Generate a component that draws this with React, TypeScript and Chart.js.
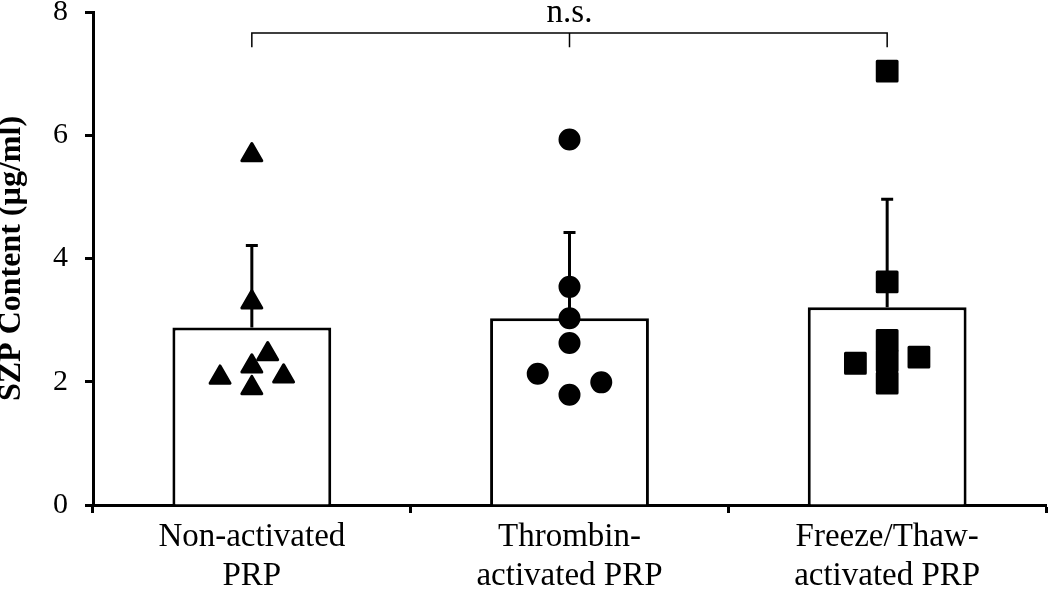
import { useEffect, useRef } from "react";
import { Chart, registerables } from "chart.js";

Chart.register(...registerables);

// ---- data ----
const categories: string[][] = [
  ["Non-activated", "PRP"],
  ["Thrombin-", "activated PRP"],
  ["Freeze/Thaw-", "activated PRP"],
];
const meanValues = [2.88, 3.03, 3.21];
const sdValues = [1.33, 1.39, 1.75];

const nonActivatedPoints = [5.68, 3.29, 2.07, 2.25, 2.45, 2.09, 1.9];
const nonActivatedJitter = [0, 0, -0.1, 0, 0.05, 0.1, 0];
const thrombinPoints = [5.93, 3.54, 3.03, 2.63, 2.13, 1.99, 1.79];
const thrombinJitter = [0, 0, 0, 0, -0.1, 0.1, 0];
const freezeThawPoints = [7.04, 3.62, 2.67, 2.34, 2.3, 2.4, 1.98];
const freezeThawJitter = [0, 0, 0, 0, -0.1, 0.1, 0];

const yTicks = [0, 2, 4, 6, 8];
const yTitle = "SZP Content (µg/ml)";
const significanceLabel = "n.s.";
const bracketLevel = 7.66;
const bracketDrop = 7.43;

const FONT = '"Times New Roman", "Liberation Serif", serif';

function toXY(groupIndex: number, vals: number[], jitter: number[]) {
  return vals.map((v, i) => ({ x: groupIndex + jitter[i], y: v }));
}

const overlayPlugin = {
  id: "overlay",
  beforeDatasetDraw(chart: any) {
    chart.ctx.lineJoin = "round";
  },
  afterDatasetDraw(chart: any, args: any) {
    const ds = chart.data.datasets[args.index];
    if (ds.type !== "bar") return;
    const ctx = chart.ctx;
    const y = chart.scales.y;
    const meta = chart.getDatasetMeta(args.index);
    ctx.save();
    ctx.strokeStyle = "#000";
    ctx.lineWidth = 3;
    ctx.lineJoin = "miter";
    meta.data.forEach((bar: any, i: number) => {
      const x = bar.x;
      const yTop = y.getPixelForValue(meanValues[i] + sdValues[i]);
      const yBase = y.getPixelForValue(meanValues[i]);
      ctx.beginPath();
      ctx.moveTo(x, yBase);
      ctx.lineTo(x, yTop);
      ctx.moveTo(x - 6, yTop);
      ctx.lineTo(x + 6, yTop);
      ctx.stroke();
    });
    ctx.restore();
  },
  afterDraw(chart: any) {
    const ctx = chart.ctx;
    const x = chart.scales.x;
    const y = chart.scales.y;
    const x0 = x.getPixelForValue(0);
    const x1 = x.getPixelForValue(1);
    const x2 = x.getPixelForValue(2);
    const yb = y.getPixelForValue(bracketLevel);
    const yd = y.getPixelForValue(bracketDrop);
    ctx.save();
    ctx.strokeStyle = "#000";
    ctx.lineWidth = 1.5;
    ctx.lineJoin = "miter";
    ctx.beginPath();
    ctx.moveTo(x0, yd);
    ctx.lineTo(x0, yb);
    ctx.lineTo(x2, yb);
    ctx.lineTo(x2, yd);
    ctx.moveTo(x1, yb);
    ctx.lineTo(x1, yd);
    ctx.stroke();
    ctx.fillStyle = "#000";
    ctx.font = `33px ${FONT}`;
    ctx.textAlign = "center";
    ctx.textBaseline = "alphabetic";
    ctx.fillText(significanceLabel, x1, yb - 11);
    ctx.restore();
  },
};

export default function App() {
  const canvasRef = useRef<HTMLCanvasElement | null>(null);

  useEffect(() => {
    document.body.style.margin = "0";
    const canvas = canvasRef.current;
    if (!canvas) return;
    const chart = new Chart(canvas, {
      type: "bar",
      data: {
        labels: categories as any,
        datasets: [
          {
            type: "scatter",
            data: toXY(0, nonActivatedPoints, nonActivatedJitter),
            xAxisID: "xj",
            pointStyle: "triangle",
            pointRadius: 11.5,
            backgroundColor: "#000",
            borderColor: "#000",
            borderWidth: 3,
            order: 1,
          } as any,
          {
            type: "scatter",
            data: toXY(1, thrombinPoints, thrombinJitter),
            xAxisID: "xj",
            pointStyle: "circle",
            pointRadius: 10,
            backgroundColor: "#000",
            borderColor: "#000",
            borderWidth: 2,
            order: 1,
          } as any,
          {
            type: "scatter",
            data: toXY(2, freezeThawPoints, freezeThawJitter),
            xAxisID: "xj",
            pointStyle: "rect",
            pointRadius: 14,
            backgroundColor: "#000",
            borderColor: "#000",
            borderWidth: 3,
            order: 1,
          } as any,
          {
            type: "bar",
            data: meanValues,
            xAxisID: "x",
            backgroundColor: "#fff",
            borderColor: "#000",
            borderWidth: 3,
            barPercentage: 0.5,
            categoryPercentage: 1,
            grouped: false,
            order: 2,
          } as any,
        ],
      },
      options: {
        responsive: false,
        animation: false,
        devicePixelRatio: 1,
        layout: { autoPadding: false, padding: { top: 12, right: 4, left: 0, bottom: 0 } },
        plugins: {
          legend: { display: false },
          tooltip: { enabled: false },
        },
        scales: {
          x: {
            type: "category",
            offset: true,
            grid: {
              offset: true,
              drawOnChartArea: false,
              drawTicks: true,
              tickLength: 8,
              tickWidth: 3,
              tickColor: "#000",
            },
            border: { display: true, color: "#000", width: 3 },
            ticks: {
              color: "#000",
              font: { family: FONT, size: 33, lineHeight: 1.17 },
              padding: 5,
              maxRotation: 0,
              autoSkip: false,
            },
            afterFit: (s: any) => {
              s.height = 84;
              s.paddingLeft = 0;
              s.paddingRight = 0;
            },
          },
          xj: {
            type: "linear",
            display: false,
            offset: false,
            min: -0.5,
            max: 2.5,
          },
          y: {
            type: "linear",
            min: 0,
            max: 8,
            afterBuildTicks: (s: any) => {
              s.ticks = yTicks.map((v) => ({ value: v }));
            },
            grid: {
              drawOnChartArea: false,
              drawTicks: true,
              tickLength: 8,
              tickWidth: 3,
              tickColor: "#000",
            },
            border: { display: true, color: "#000", width: 3 },
            ticks: {
              color: "#000",
              font: { family: FONT, size: 30 },
              padding: 17,
            },
            title: {
              display: true,
              text: yTitle,
              color: "#000",
              font: { family: FONT, size: 32, weight: "bold", lineHeight: 0.75 },
              padding: 0,
            },
            afterFit: (s: any) => {
              s.width = 93;
              s.paddingTop = 0;
              s.paddingBottom = 0;
            },
          },
        },
      },
      plugins: [overlayPlugin],
    });
    return () => chart.destroy();
  }, []);

  return (
    <div style={{ width: 1050, height: 589 }}>
      <canvas ref={canvasRef} width={1050} height={589} />
    </div>
  );
}
